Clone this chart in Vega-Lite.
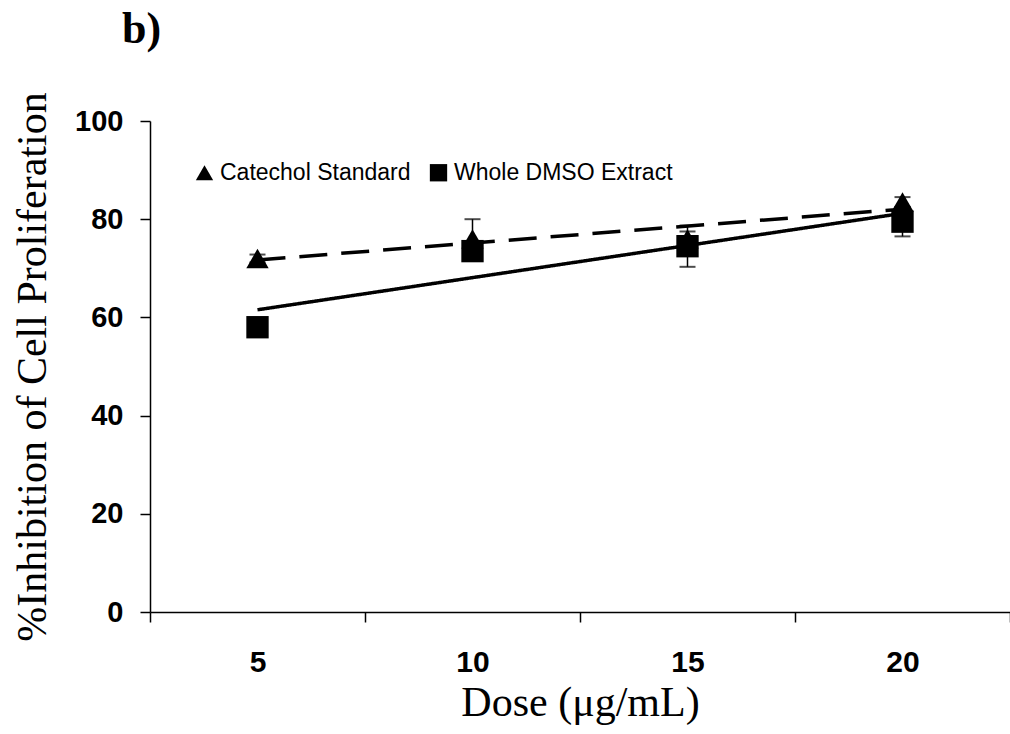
{
  "$schema": "https://vega.github.io/schema/vega-lite/v6.json",
  "width": 860,
  "height": 491,
  "autosize": {"type": "none"},
  "padding": {"left": 150, "top": 121, "right": 0, "bottom": 122},
  "background": "white",
  "title": {
    "text": "b)",
    "font": "Liberation Serif",
    "fontWeight": "bold",
    "fontSize": 44,
    "color": "black",
    "anchor": "start",
    "frame": "group",
    "dx": -28,
    "dy": 16,
    "offset": 56
  },
  "config": {
    "view": {"stroke": null},
    "axis": {"grid": false, "domainColor": "black", "tickColor": "black", "labelColor": "black", "titleColor": "black", "domainWidth": 1.5, "tickWidth": 1.5}
  },
  "data": {
    "values": [
      {"dose": 5, "series": "Catechol Standard", "value": 72, "lo": 71.2, "hi": 72.8},
      {"dose": 10, "series": "Catechol Standard", "value": 76, "lo": 72, "hi": 80},
      {"dose": 15, "series": "Catechol Standard", "value": 76, "lo": 74.5, "hi": 77.5},
      {"dose": 20, "series": "Catechol Standard", "value": 83.5, "lo": 82.5, "hi": 84.5},
      {"dose": 5, "series": "Whole DMSO Extract", "value": 58, "lo": 57, "hi": 59},
      {"dose": 10, "series": "Whole DMSO Extract", "value": 73.5, "lo": 72, "hi": 75},
      {"dose": 15, "series": "Whole DMSO Extract", "value": 74.5, "lo": 70.3, "hi": 78.7},
      {"dose": 20, "series": "Whole DMSO Extract", "value": 79.5, "lo": 76.5, "hi": 82.5}
    ]
  },
  "encoding": {
    "x": {
      "field": "dose",
      "type": "quantitative",
      "scale": {"domain": [2.5, 22.5], "nice": false, "zero": false},
      "axis": {
        "values": [2.5, 5, 7.5, 10, 12.5, 15, 17.5, 20, 22.5],
        "labelExpr": "datum.value % 5 == 0 ? datum.label : ''",
        "tickOpacity": {"condition": {"test": "datum.value % 5 == 0", "value": 0}, "value": 1},
        "tickSize": 10,
        "labelPadding": 25,
        "labelFont": "Liberation Sans",
        "labelFontWeight": "bold",
        "labelFontSize": 30,
        "labelFlush": false,
        "labelOverlap": false,
        "title": "Dose (μg/mL)",
        "titleFont": "Liberation Serif",
        "titleFontWeight": "normal",
        "titleFontSize": 42,
        "titlePadding": 5
      }
    },
    "y": {
      "field": "value",
      "type": "quantitative",
      "scale": {"domain": [0, 100], "nice": false},
      "axis": {
        "values": [0, 20, 40, 60, 80, 100],
        "tickSize": 10,
        "labelPadding": 17,
        "labelFont": "Liberation Sans",
        "labelFontWeight": "bold",
        "labelFontSize": 29,
        "title": "%Inhibition of Cell Proliferation",
        "titleFont": "Liberation Serif",
        "titleFontWeight": "normal",
        "titleFontSize": 42,
        "titlePadding": 20
      }
    }
  },
  "layer": [
    {
      "mark": {"type": "rule", "color": "black", "strokeWidth": 1.5},
      "encoding": {"y": {"field": "lo", "type": "quantitative"}, "y2": {"field": "hi"}}
    },
    {
      "mark": {"type": "tick", "orient": "horizontal", "color": "black", "size": 16, "thickness": 2},
      "encoding": {"y": {"field": "lo", "type": "quantitative"}}
    },
    {
      "mark": {"type": "tick", "orient": "horizontal", "color": "black", "size": 16, "thickness": 2},
      "encoding": {"y": {"field": "hi", "type": "quantitative"}}
    },
    {
      "mark": {"type": "point", "filled": true, "color": "black", "opacity": 1, "size": 500},
      "encoding": {
        "shape": {
          "field": "series",
          "type": "nominal",
          "scale": {"domain": ["Catechol Standard", "Whole DMSO Extract"], "range": ["triangle-up", "square"]},
          "legend": {
            "title": null,
            "orient": "none",
            "direction": "horizontal",
            "legendX": 43,
            "legendY": 40,
            "padding": 0,
            "symbolSize": 300,
            "symbolFillColor": "black",
            "symbolStrokeWidth": 0,
            "labelFont": "Liberation Sans",
            "labelFontSize": 23,
            "labelColor": "black",
            "labelLimit": 0,
            "labelOffset": 4,
            "columnPadding": 16
          }
        }
      }
    },
    {
      "transform": [
        {"regression": "value", "on": "dose", "groupby": ["series"], "extent": [5, 20]}
      ],
      "mark": {"type": "line", "color": "black", "strokeWidth": 3.5},
      "encoding": {
        "strokeDash": {
          "field": "series",
          "type": "nominal",
          "scale": {"domain": ["Catechol Standard", "Whole DMSO Extract"], "range": [[28, 14], [1, 0]]},
          "legend": null
        }
      }
    }
  ]
}
